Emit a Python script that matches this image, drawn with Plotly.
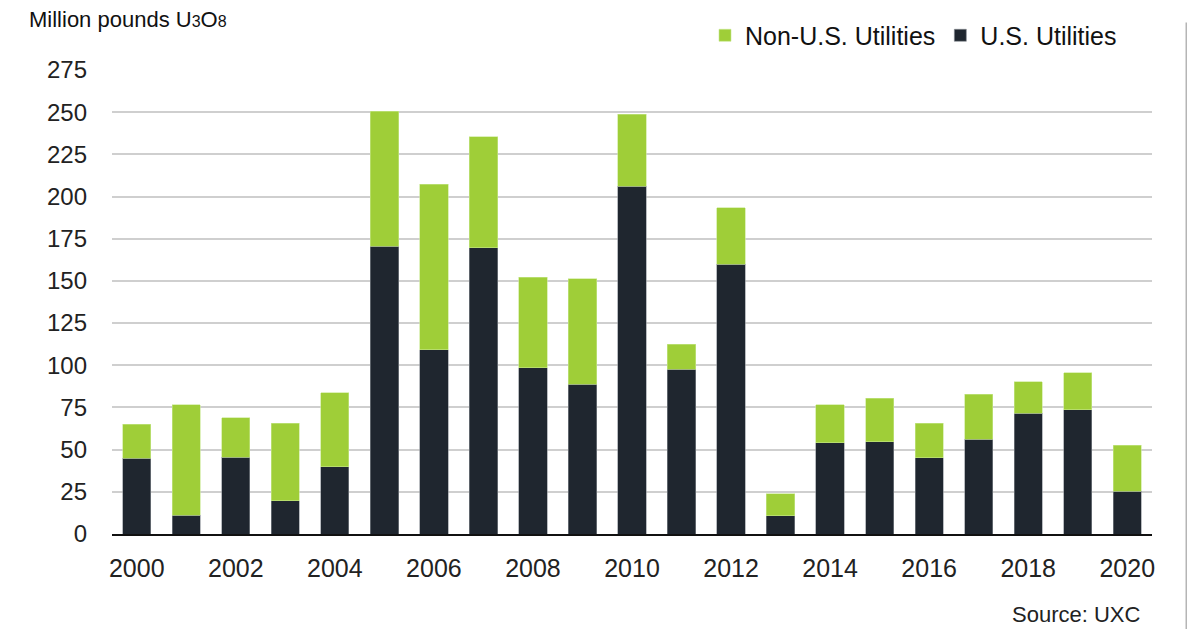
import plotly.graph_objects as go

years = list(range(2000, 2021))
us_utilities = [44.8, 11, 45.5, 19.6, 39.8, 170.5, 109.2, 169.8, 98.5, 88.7, 206.2, 97.7,
                160.0, 10.9, 54.0, 54.6, 45.3, 56.3, 71.7, 73.5, 25.4]
total = [65.0, 76.7, 68.8, 65.6, 83.6, 250.6, 207.2, 235.4, 152.3, 151.2, 248.8, 112.4,
         193.5, 23.9, 76.6, 80.5, 65.6, 82.8, 90.2, 95.5, 52.6]
non_us_utilities = [round(t - u, 1) for t, u in zip(total, us_utilities)]
y_ticks = [0, 25, 50, 75, 100, 125, 150, 175, 200, 225, 250, 275]
x_ticks = list(range(2000, 2021, 2))

GREEN = "#9fce38"
DARK = "#1f262f"
FONT = "Liberation Sans"

OFF = 8  # browser default body margin
FW, FH = 1195 - OFF, 629 - OFF

fig = go.Figure()
fig.add_trace(go.Bar(
    x=years, y=us_utilities, name="U.S. Utilities",
    marker=dict(color=DARK, line=dict(color="#8a8f96", width=0.6)),
    width=0.57,
))
fig.add_trace(go.Bar(
    x=years, y=non_us_utilities, name="Non-U.S. Utilities",
    marker=dict(color=GREEN, line=dict(color="#c8e890", width=0.6)),
    width=0.57,
))

# page-pixel targets
P_LEFT, P_RIGHT, P_TOP, P_ZERO = 112, 1152, 69.5, 534
L = P_LEFT - OFF
R = FW - (P_RIGHT - OFF)
T = P_TOP - OFF
B = FH - (P_ZERO - OFF)
W = P_RIGHT - P_LEFT
H = P_ZERO - P_TOP


def px_x(px):
    return (px - P_LEFT) / W


def px_y(py):
    return (P_ZERO - py) / H


fig.update_layout(
    width=FW, height=FH,
    barmode="stack",
    plot_bgcolor="white", paper_bgcolor="white",
    margin=dict(l=L, r=R, t=T, b=B, pad=0, autoexpand=False),
    font=dict(family=FONT, color="#222222", size=24),
    showlegend=True,
    legend=dict(
        orientation="h", traceorder="reversed",
        x=px_x(1122), xanchor="right",
        y=px_y(35), yanchor="middle",
        font=dict(size=25, color="#111111", family=FONT),
        bgcolor="rgba(0,0,0,0)",
        itemwidth=30,
    ),
    xaxis=dict(
        range=[1999.5, 2020.5],
        tickvals=x_ticks, ticktext=[str(v) for v in x_ticks],
        showgrid=False, zeroline=False,
        showline=True, linecolor="#111111", linewidth=2,
        ticks="", ticklabelstandoff=11,
        tickfont=dict(size=25, color="#222222"),
    ),
    yaxis=dict(
        range=[0, 275],
        tickvals=y_ticks,
        showgrid=True, gridcolor="#cfcfcf", gridwidth=2,
        zeroline=False, showline=False,
        ticks="", ticklabelstandoff=24,
        tickfont=dict(size=24, color="#222222"),
    ),
    title=dict(
        text="Million pounds U<span style='font-size:16px'>3</span>O<span style='font-size:16px'>8</span>",
        xref="container", yref="container",
        x=(29 - OFF) / FW, xanchor="left",
        y=1 - (19 - OFF) / FH, yanchor="middle",
        font=dict(size=22, color="#111111", family=FONT),
    ),
    annotations=[dict(
        text="Source: UXC", xref="paper", yref="paper",
        x=px_x(1142), xanchor="right",
        y=px_y(615), yanchor="middle",
        showarrow=False, font=dict(size=22, color="#222222", family=FONT),
    )],
    shapes=[
        dict(type="line", xref="paper", yref="paper",
             x0=px_x(1188), x1=px_x(1188),
             y0=px_y(22), y1=px_y(640),
             line=dict(color="#b5b5b5", width=5)),
    ],
)

fig.write_html("out.html")
